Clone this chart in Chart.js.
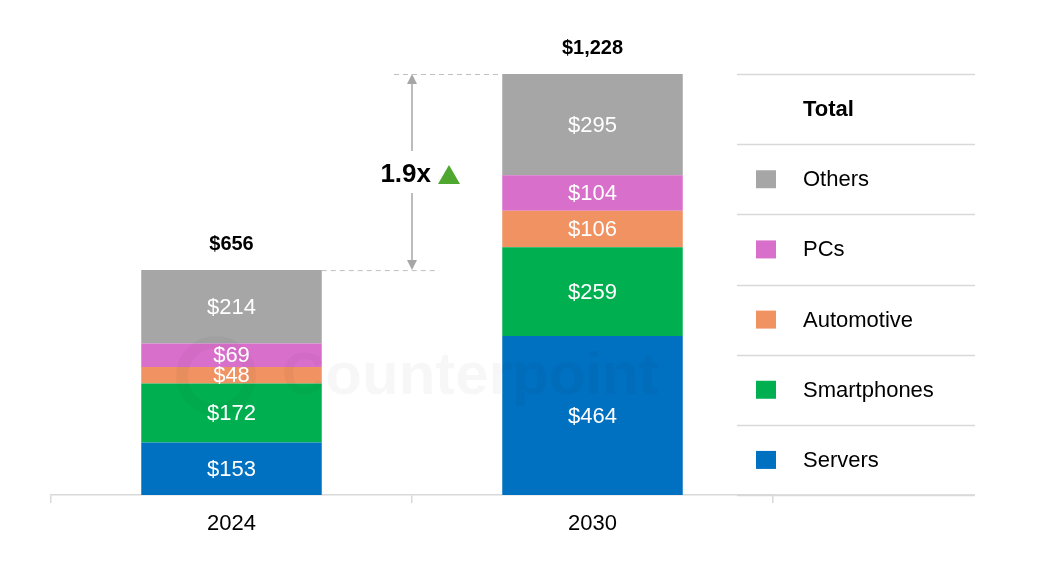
<!DOCTYPE html>
<html>
<head>
<meta charset="utf-8">
<script src="https://cdn.jsdelivr.net/npm/chart.js@4"></script>
<style>
  body { margin: 0; background: #fff; }
  #wrap { width: 1041px; height: 581px; position: relative; }
</style>
</head>
<body>
<div id="wrap"><canvas id="chart"></canvas></div>
<script>
const years = ["2024", "2030"];
const servers = [153, 464];
const smartphones = [172, 259];
const automotive = [48, 106];
const pcs = [69, 104];
const others = [214, 295];

const seriesNames = ["Servers", "Smartphones", "Automotive", "PCs", "Others"];
const seriesColours = ["#0070c0", "#00b050", "#f09262", "#d86fcb", "#a6a6a6"];
const seriesValues = [servers, smartphones, automotive, pcs, others];

const font = "Arial, 'Liberation Sans', sans-serif";
const lineGrey = "#d9d9d9";

function money(v) {
  return "$" + v.toLocaleString("en-US");
}

// faint logo behind the bars
const watermark = {
  id: "watermark",
  afterDatasetsDraw(chart) {
    const ctx = chart.ctx;
    ctx.save();
    ctx.font = "bold 60px " + font;
    ctx.fillStyle = "rgba(0,0,0,0.03)";
    ctx.textAlign = "left";
    ctx.textBaseline = "alphabetic";
    ctx.fillText("Counterpoint", 282, 394);
    ctx.lineWidth = 12;
    ctx.strokeStyle = "rgba(0,0,0,0.03)";
    ctx.beginPath();
    ctx.arc(216, 376, 34, 0, Math.PI * 2);
    ctx.stroke();
    ctx.restore();
  },
};

const overlay = {
  id: "overlay",
  afterDraw(chart) {
    const ctx = chart.ctx;
    const area = chart.chartArea;
    const y = chart.scales.y;
    const n = years.length;

    // segment labels
    ctx.save();
    ctx.font = "22px " + font;
    ctx.fillStyle = "#fff";
    ctx.textAlign = "center";
    ctx.textBaseline = "middle";
    chart.data.datasets.forEach((ds, i) => {
      chart.getDatasetMeta(i).data.forEach((bar, j) => {
        const mid = (bar.y + bar.base) / 2;
        ctx.fillText(money(ds.data[j]), bar.x, mid + 1);
      });
    });
    ctx.restore();

    // totals above bars
    const totals = [];
    const bars = chart.getDatasetMeta(0).data;
    ctx.save();
    ctx.font = "bold 20px " + font;
    ctx.fillStyle = "#000";
    ctx.textAlign = "center";
    ctx.textBaseline = "middle";
    for (let j = 0; j < n; j++) {
      let t = 0;
      seriesValues.forEach((s) => (t += s[j]));
      totals.push(t);
      ctx.fillText(money(t), bars[j].x, y.getPixelForValue(t) - 26);
    }
    ctx.restore();

    // growth arrow between the bars
    const half = bars[0].width / 2;
    const ax = (bars[0].x + bars[1].x) / 2;
    const yTop = y.getPixelForValue(totals[1]);
    const yBot = y.getPixelForValue(totals[0]);
    ctx.save();
    ctx.strokeStyle = "#bfbfbf";
    ctx.lineWidth = 1;
    ctx.setLineDash([5, 4]);
    ctx.beginPath();
    ctx.moveTo(ax - 18, yTop + 0.5);
    ctx.lineTo(bars[1].x - half, yTop + 0.5);
    ctx.moveTo(bars[0].x + half, yBot + 0.5);
    ctx.lineTo(ax + 27, yBot + 0.5);
    ctx.stroke();
    ctx.setLineDash([]);
    ctx.strokeStyle = "#a6a6a6";
    ctx.lineWidth = 1.5;
    const midY = (yTop + yBot) / 2 + 3;
    ctx.beginPath();
    ctx.moveTo(ax, yTop + 8);
    ctx.lineTo(ax, midY - 24);
    ctx.moveTo(ax, midY + 18);
    ctx.lineTo(ax, yBot - 8);
    ctx.stroke();
    ctx.fillStyle = "#a6a6a6";
    ctx.beginPath();
    ctx.moveTo(ax, yTop);
    ctx.lineTo(ax - 5, yTop + 10);
    ctx.lineTo(ax + 5, yTop + 10);
    ctx.closePath();
    ctx.fill();
    ctx.beginPath();
    ctx.moveTo(ax, yBot);
    ctx.lineTo(ax - 5, yBot - 10);
    ctx.lineTo(ax + 5, yBot - 10);
    ctx.closePath();
    ctx.fill();
    ctx.font = "bold 26px " + font;
    ctx.fillStyle = "#000";
    ctx.textAlign = "right";
    ctx.textBaseline = "middle";
    ctx.fillText((totals[1] / totals[0]).toFixed(1) + "x", ax + 19, midY);
    ctx.fillStyle = "#4ea72e";
    ctx.beginPath();
    ctx.moveTo(ax + 26, midY + 9);
    ctx.lineTo(ax + 37, midY - 10);
    ctx.lineTo(ax + 48, midY + 9);
    ctx.closePath();
    ctx.fill();
    ctx.restore();

    // axis line extended under the legend table
    ctx.save();
    ctx.strokeStyle = lineGrey;
    ctx.lineWidth = 1.5;
    ctx.beginPath();
    ctx.moveTo(area.right, area.bottom);
    ctx.lineTo(975, area.bottom);
    ctx.stroke();
    ctx.restore();

    // legend table
    const rows = ["Total"].concat(seriesNames.slice().reverse());
    const cols = ["#fff"].concat(seriesColours.slice().reverse());
    const rowH = (area.bottom - area.top) / rows.length;
    ctx.save();
    ctx.strokeStyle = lineGrey;
    ctx.lineWidth = 1.5;
    for (let r = 0; r <= rows.length; r++) {
      const ly = Math.round(area.top + r * rowH) + 0.5;
      ctx.beginPath();
      ctx.moveTo(737, ly);
      ctx.lineTo(975, ly);
      ctx.stroke();
    }
    ctx.textAlign = "left";
    ctx.textBaseline = "middle";
    rows.forEach((name, r) => {
      const cy = area.top + (r + 0.5) * rowH;
      if (r === 0) {
        ctx.font = "bold 22px " + font;
      } else {
        ctx.font = "22px " + font;
        ctx.fillStyle = cols[r];
        ctx.fillRect(756, cy - 9, 20, 18);
      }
      ctx.fillStyle = "#000";
      ctx.fillText(name, 803, cy + 1);
    });
    ctx.restore();
  },
};

new Chart(document.getElementById("chart"), {
  type: "bar",
  data: {
    labels: years,
    datasets: seriesNames.map((name, i) => ({
      label: name,
      data: seriesValues[i],
      backgroundColor: seriesColours[i],
      barPercentage: 0.5,
      categoryPercentage: 1,
    })),
  },
  options: {
    responsive: true,
    maintainAspectRatio: false,
    animation: false,
    layout: {
      padding: { top: 74, left: 51, right: 268, bottom: 0 },
    },
    plugins: {
      legend: { display: false },
      tooltip: { enabled: false },
    },
    scales: {
      x: {
        stacked: true,
        grid: {
          display: true,
          drawOnChartArea: false,
          drawTicks: true,
          tickLength: 8,
          color: lineGrey,
          lineWidth: 1.5,
          offset: true,
        },
        border: { display: true, color: lineGrey, width: 1.5 },
        ticks: {
          color: "#000",
          padding: 8,
          font: { family: font, size: 22 },
        },
        afterFit(scale) {
          scale.height = 86;
        },
      },
      y: {
        stacked: true,
        display: false,
        min: 0,
        max: 1228,
      },
    },
  },
  plugins: [watermark, overlay],
});
</script>
</body>
</html>
